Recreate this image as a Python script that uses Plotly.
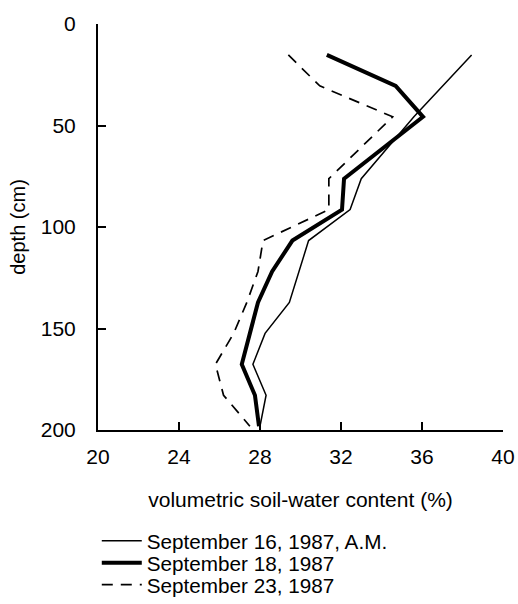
import plotly.graph_objects as go

# depths (cm) and volumetric soil-water content (%)
depth_sep16 = [15.24, 45.72, 76.2, 91.44, 106.68, 137.16, 152.4, 167.64, 182.88, 198.12]
water_sep16 = [38.45, 35.6, 33.0, 32.45, 30.4, 29.45, 28.25, 27.65, 28.3, 28.0]

depth_sep18 = [15.24, 30.48, 45.72, 76.2, 91.44, 106.68, 121.92, 137.16, 152.4, 167.64, 182.88, 198.12]
water_sep18 = [31.3, 34.7, 36.05, 32.15, 32.05, 29.6, 28.6, 27.9, 27.5, 27.1, 27.75, 27.95]

depth_sep23 = [15.24, 30.48, 45.72, 76.2, 91.44, 106.68, 121.92, 137.16, 152.4, 167.64, 182.88, 198.12]
water_sep23 = [29.4, 30.95, 34.55, 31.4, 31.4, 28.15, 27.9, 27.35, 26.7, 25.8, 26.2, 27.5]

series_names = ["September 16, 1987, A.M.", "September 18, 1987", "September 23, 1987"]
x_ticks = [20, 24, 28, 32, 36, 40]
y_ticks = [0, 50, 100, 150, 200]

FONT = "Liberation Sans, Arial, Helvetica, sans-serif"

fig = go.Figure()
fig.add_trace(go.Scatter(x=water_sep16, y=depth_sep16, mode="lines", name=series_names[0],
                         line=dict(color="black", width=1.5), legend="legend"))
fig.add_trace(go.Scatter(x=water_sep18, y=depth_sep18, mode="lines", name=series_names[1],
                         line=dict(color="black", width=4), legend="legend2"))
fig.add_trace(go.Scatter(x=water_sep23, y=depth_sep23, mode="lines", name=series_names[2],
                         line=dict(color="black", width=1.7, dash="11px,8px"), legend="legend3"))

leg_common = dict(x=-0.003, xanchor="left", yanchor="middle", bgcolor="rgba(0,0,0,0)",
                  font=dict(family=FONT, size=20.7, color="black"), itemwidth=40,
                  borderwidth=0)

fig.update_layout(
    width=518, height=604,
    margin=dict(l=98, r=15, t=24, b=174, autoexpand=False),
    paper_bgcolor="white", plot_bgcolor="white",
    font=dict(family=FONT, size=20, color="black"),
    showlegend=True,
    legend=dict(y=-0.273, **leg_common),
    legend2=dict(y=-0.327, **leg_common),
    legend3=dict(y=-0.381, **leg_common),
    xaxis=dict(range=[20, 40], tickvals=x_ticks, ticks="inside", ticklen=8, tickwidth=2,
               tickcolor="black", showline=True, linewidth=2, linecolor="black",
               showgrid=False, zeroline=False, ticklabelstandoff=7,
               tickfont=dict(size=21),
               title=dict(text="volumetric soil-water content (%)", standoff=25,
                          font=dict(size=21))),
    yaxis=dict(range=[200, 0], tickvals=y_ticks, ticks="inside", ticklen=8, tickwidth=2,
               tickcolor="black", showline=True, linewidth=2, linecolor="black",
               showgrid=False, zeroline=False, ticklabelstandoff=16,
               tickfont=dict(size=21),
               title=dict(text="depth (cm)", standoff=10, font=dict(size=20))),
)

fig.write_html("out.html")
